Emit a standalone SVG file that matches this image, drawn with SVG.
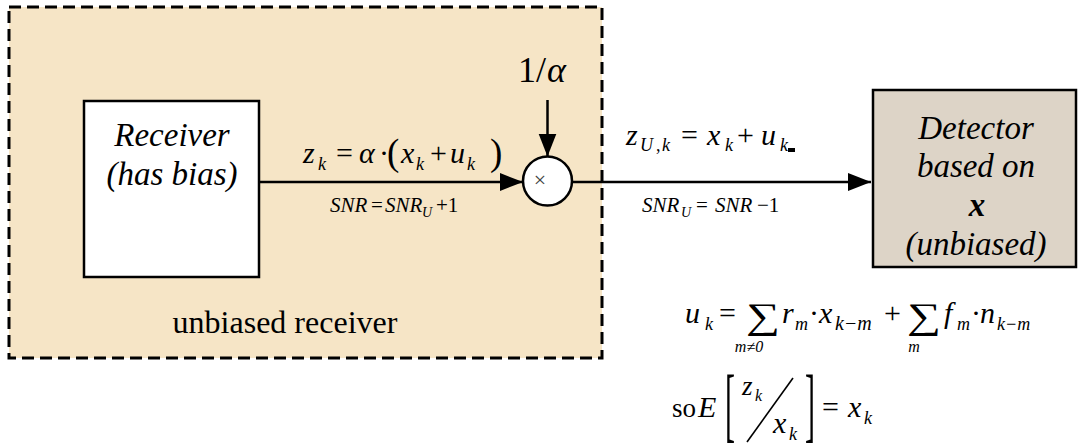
<svg xmlns="http://www.w3.org/2000/svg" width="1078" height="448" viewBox="0 0 1078 448">
<style>
text{font-family:"Liberation Serif",serif;fill:#000}
.i{font-style:italic}
.b{font-weight:bold}
.eq{font-size:30px}
.sub{font-size:18px}
.sm{font-size:21px}
.smsub{font-size:14px}
.lbl{font-size:33px;font-style:italic}
.wire{stroke:#000;stroke-width:2.5;fill:none}
</style>
<defs>
<marker id="ah" markerUnits="userSpaceOnUse" markerWidth="24" markerHeight="20" refX="23" refY="10" orient="auto">
<path d="M0,1 L23,10 L0,19 Z" fill="#000"/>
</marker>
</defs>
<rect width="1078" height="448" fill="#fff"/>

<g id="unbiased-receiver">
<rect x="9" y="7" width="593" height="351" fill="#f6e5c6" stroke="#000" stroke-width="3" stroke-dasharray="12 6"/>
<text x="285" y="333" font-size="32" text-anchor="middle">unbiased receiver</text>
</g>

<g id="receiver">
<rect x="84" y="101" width="175" height="176" fill="#fff" stroke="#000" stroke-width="2.5"/>
<text class="lbl" x="172" y="146" text-anchor="middle">Receiver</text>
<text class="lbl" x="172" y="185" text-anchor="middle">(has bias)</text>
</g>

<g id="multiplier">
<circle cx="547.5" cy="181" r="24.5" fill="#fff" stroke="#000" stroke-width="2.5"/>
<text x="540" y="187" font-size="22" text-anchor="middle" style="fill:#444">×</text>
</g>

<g id="detector">
<rect x="873" y="90" width="203" height="177" fill="#ddd4c7" stroke="#000" stroke-width="2.5"/>
<text class="lbl" x="976" y="139" text-anchor="middle">Detector</text>
<text class="lbl" x="976" y="177" text-anchor="middle">based on</text>
<text class="lbl b" x="977" y="216" text-anchor="middle">x</text>
<text class="lbl" x="976" y="255" text-anchor="middle">(unbiased)</text>
</g>

<g id="connectors">
<line class="wire" x1="259" y1="182" x2="523" y2="182" marker-end="url(#ah)"/>
<line class="wire" x1="547.5" y1="100" x2="547.5" y2="156.5" marker-end="url(#ah)"/>
<line class="wire" x1="572" y1="182" x2="871" y2="182" marker-end="url(#ah)"/>
</g>

<g id="label-inv-alpha">
<text x="518" y="82" font-size="36">1/</text>
<text x="547" y="82" font-size="36" class="i">α</text>
</g>

<g id="eq-zk">
<text class="eq i" x="303" y="163">z</text>
<text class="sub i" x="318" y="170">k</text>
<text class="eq" x="336" y="163">=</text>
<text class="eq i" x="359" y="163">α</text>
<text class="eq" x="379" y="163">·</text>
<text x="387" y="165" font-size="37">(</text>
<text class="eq i" x="401" y="163">x</text>
<text class="sub i" x="416" y="170">k</text>
<text class="eq" x="430" y="163">+</text>
<text class="eq i" x="450" y="163">u</text>
<text class="sub i" x="467" y="170">k</text>
<text x="490" y="165" font-size="37">)</text>
</g>

<g id="eq-snr1">
<text class="sm i" x="330" y="212">SNR</text>
<text class="sm" x="371" y="212">=</text>
<text class="sm i" x="385" y="212">SNR</text>
<text class="smsub i" x="422" y="217">U</text>
<text class="sm" x="436" y="212">+1</text>
</g>

<g id="eq-zuk">
<text class="eq i" x="626" y="145">z</text>
<text class="sub i" x="640" y="151">U</text>
<text class="sub" x="656" y="151">,</text>
<text class="sub i" x="662" y="151">k</text>
<text class="eq" x="681" y="145">=</text>
<text class="eq i" x="707" y="145">x</text>
<text class="sub i" x="725" y="151">k</text>
<text class="eq" x="737" y="145">+</text>
<text class="eq i" x="761" y="145">u</text>
<text class="sub i" x="780" y="151">k</text>
<rect x="788" y="148" width="7" height="4" fill="#000"/>
</g>

<g id="eq-snr2">
<text class="sm i" x="642" y="212">SNR</text>
<text class="smsub i" x="681" y="217">U</text>
<text class="sm" x="696" y="212">=</text>
<text class="sm i" x="715" y="212">SNR</text>
<text class="sm" x="757" y="212">−1</text>
</g>

<g id="eq-uk">
<text class="eq i" x="685" y="323">u</text>
<text class="sub i" x="705" y="330">k</text>
<text class="eq" x="719" y="323">=</text>
<text x="746" y="328" font-size="36" textLength="34" lengthAdjust="spacingAndGlyphs">∑</text>
<text x="749" y="352" font-size="16" class="i" text-anchor="middle">m≠0</text>
<text class="eq i" x="782" y="323">r</text>
<text class="sub i" x="795" y="330">m</text>
<text class="eq" x="809" y="323">·</text>
<text class="eq i" x="819" y="323">x</text>
<text class="i" x="835" y="330" font-size="20">k−m</text>
<text class="eq" x="884" y="323">+</text>
<text x="907" y="328" font-size="36" textLength="34" lengthAdjust="spacingAndGlyphs">∑</text>
<text x="914" y="352" font-size="16" class="i" text-anchor="middle">m</text>
<text class="eq i" x="944" y="323">f</text>
<text class="sub i" x="957" y="330">m</text>
<text class="eq" x="971" y="323">·</text>
<text class="eq i" x="980" y="323">n</text>
<text class="sub i" x="997" y="330">k−m</text>
</g>

<g id="eq-expect">
<text x="672" y="417" font-size="27">so</text>
<text class="eq i" x="698" y="417">E</text>
<text transform="translate(725,432) scale(1,2.75)" font-size="30">[</text>
<text x="742" y="395" font-size="27" class="i">z</text>
<text x="755" y="401" font-size="16" class="i">k</text>
<line x1="793" y1="378" x2="747" y2="442" stroke="#000" stroke-width="1.6"/>
<text class="eq i" x="773" y="433">x</text>
<text class="sub i" x="789" y="440">k</text>
<text transform="translate(805,432) scale(1,2.75)" font-size="30">]</text>
<text class="eq" x="822" y="417">=</text>
<text class="eq i" x="848" y="417">x</text>
<text class="sub i" x="864" y="424">k</text>
</g>
</svg>
